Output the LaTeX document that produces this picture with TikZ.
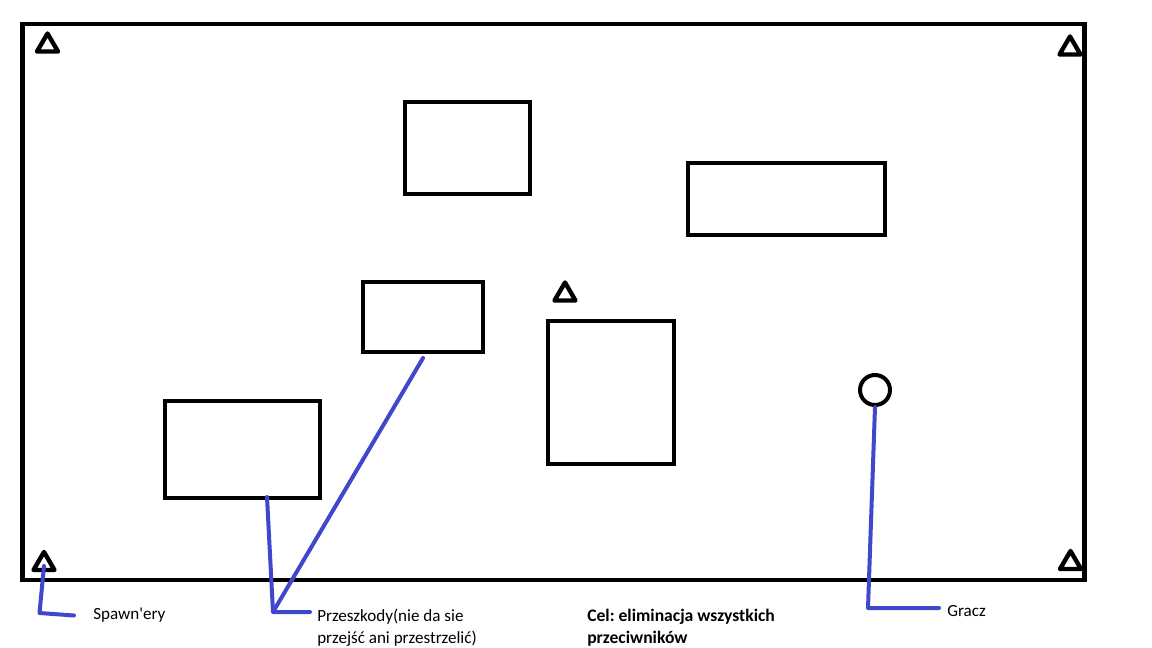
\documentclass[tikz,border=0pt]{standalone}
\usepackage{fontspec}
\setmainfont{Carlito}
\definecolor{paintblue}{HTML}{3F48CC}
\frenchspacing
\begin{document}
\begin{tikzpicture}[x=0.75pt, y=-0.75pt,
    wall/.style={draw, line width=3.2pt},
    obstacle/.style 2 args={draw, line width=3pt, inner sep=0pt,
      minimum width=#1*0.75pt, minimum height=#2*0.75pt},
    spawner/.pic={\draw[line width=3.3pt, line join=round]
      (-10.5,9) -- (0,-9) -- (10.5,9) -- cycle;},
    player/.style={draw, circle, line width=3pt, inner sep=0pt, minimum size=22.5pt},
    pointer/.style={draw=paintblue, line width=3pt, line cap=round, line join=round},
    label/.style={anchor=base west, inner sep=0pt, align=left,
      font=\fontsize{12.8}{16.2}\selectfont}]
        \useasboundingbox (0,0) rectangle (1152,648);

        % arena
        \draw [wall] (22.5,24) rectangle (1084.5,580);

        % spawn points
        \pic at (47.5,42.5) {spawner};
        \pic at (1070,45.5) {spawner};
        \pic at (565,291.5) {spawner};
        \pic at (44,561) {spawner};
        \pic at (1070.5,560) {spawner};

        % obstacles
        \node [obstacle={125}{92}] (R1) at (467.5,148) {};
        \node [obstacle={197}{72}] (R2) at (786.5,199) {};
        \node [obstacle={120}{70}] (R3) at (423,317) {};
        \node [obstacle={126}{143}] (R4) at (611,392.5) {};
        \node [obstacle={155}{97}] (R5) at (242.5,449.5) {};

        % player
        \node [player] (P) at (875,390) {};

        % labels
        \node [label] (spawnLabel) at (93,619) {Spawn\textquotesingle ery};
        \node [label] (obstLabel) at (317,643.5) {Przeszkody(nie da sie\\przejść ani przestrzelić)};
        \node [label, font=\fontsize{13.2}{16.2}\selectfont\bfseries] (goalLabel) at (587,643.5)
          {Cel: eliminacja wszystkich\\przeciwników};
        \node [label] (playerLabel) at (947,616) {Gracz};

        % connectors
        \coordinate (spawnTip) at (44,566);
        \coordinate (spawnBend) at (39.5,613);
        \coordinate (spawnEnd) at (74,615.5);
        \draw [pointer] (spawnTip) -- (spawnBend) -- (spawnEnd);

        \coordinate (R5tip) at (267,497);
        \coordinate (R3tip) at (423,358);
        \coordinate (obstBend) at (273,612);
        \coordinate (obstEnd) at (310,612);
        \draw [pointer] (R5tip) -- (obstBend) -- (obstEnd);
        \draw [pointer] (R3tip) -- (obstBend);

        \coordinate (playerBend) at (868,608);
        \coordinate (playerEnd) at (939,608);
        \draw [pointer] (P.south) -- (playerBend) -- (playerEnd);
      \end{tikzpicture}
\end{document}
